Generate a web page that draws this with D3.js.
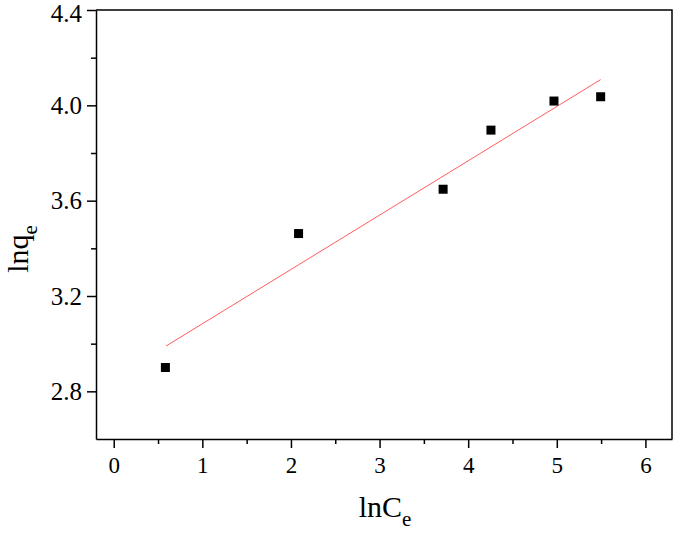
<!DOCTYPE html>
<html>
<head>
<meta charset="utf-8">
<script src="https://d3js.org/d3.v7.min.js"></script>
<style>
  body { margin: 0; background: #fff; }
  text { font-family: "Liberation Serif", "Times New Roman", serif; fill: #000; }
  .axis path, .axis line { stroke: #000; stroke-width: 1.5; }
</style>
</head>
<body>
<div id="chart"></div>
<script>
// dados
var lnCe = [0.583, 2.086, 3.717, 4.257, 4.968, 5.495];
var lnqe = [2.90, 3.462, 3.648, 3.896, 4.018, 4.036];
// reta ajustada (extremos)
var fitX = [0.59, 5.495];
var fitY = [2.99, 4.108];
var xTicks = [0, 1, 2, 3, 4, 5, 6];
var yTicks = [2.8, 3.2, 3.6, 4.0, 4.4];

var W = 675, H = 533;
var margin = {top: 10, right: 3, bottom: 94, left: 96};
var w = W - margin.left - margin.right,
    h = H - margin.top - margin.bottom;

var x = d3.scaleLinear().domain([-0.2, 6.3]).range([0, w]);
var y = d3.scaleLinear().domain([2.6, 4.4]).range([h, 0]);

var svg = d3.select('#chart').append('svg')
  .attr('width', W).attr('height', H);
var g = svg.append('g')
  .attr('transform', 'translate(' + margin.left + ',' + margin.top + ')');

// ticks menores
var xMinor = d3.range(0.5, 6.3, 1);
var yMinor = d3.range(3.0, 4.4, 0.4);

g.append('g').attr('class', 'axis')
  .attr('transform', 'translate(0,' + h + ')')
  .call(d3.axisBottom(x).tickValues(xMinor).tickSize(5).tickFormat(''))
  .select('.domain').remove();
g.append('g').attr('class', 'axis')
  .call(d3.axisLeft(y).tickValues(yMinor).tickSize(5).tickFormat(''))
  .select('.domain').remove();

var xa = g.append('g').attr('class', 'axis')
  .attr('transform', 'translate(0,' + h + ')')
  .call(d3.axisBottom(x).tickValues(xTicks).tickSize(9).tickSizeOuter(0).tickPadding(9).tickFormat(d3.format('d')));
xa.selectAll('text').style('font-size', '23px');

var ya = g.append('g').attr('class', 'axis')
  .call(d3.axisLeft(y).tickValues(yTicks).tickSize(9).tickSizeOuter(0).tickPadding(5).tickFormat(d3.format('.1f')));
ya.selectAll('text').style('font-size', '25px');
// 4.4 fica colado no topo
ya.selectAll('text').filter(d => d === 4.4).attr('dy', '0.45em');

// moldura de cima e da direita
g.append('path')
  .attr('d', 'M0,0H' + w + 'V' + h)
  .attr('fill', 'none').attr('stroke', '#000').attr('stroke-width', 1.5);

// reta
g.append('path')
  .datum(d3.zip(fitX, fitY))
  .attr('fill', 'none')
  .attr('stroke', '#ff5c5c')
  .attr('stroke-width', 1)
  .attr('d', d3.line().x(d => x(d[0])).y(d => y(d[1])));

// pontos
var s = 9;
g.selectAll('rect.pt')
  .data(d3.zip(lnCe, lnqe))
  .enter().append('rect')
    .attr('class', 'pt')
    .attr('x', d => x(d[0]) - s / 2)
    .attr('y', d => y(d[1]) - s / 2)
    .attr('width', s).attr('height', s)
    .attr('fill', '#000');

// titulos
var tx = svg.append('text')
  .attr('x', 385).attr('y', 517)
  .attr('text-anchor', 'middle')
  .style('font-size', '30px');
tx.append('tspan').text('lnC');
tx.append('tspan').attr('dy', 9).style('font-size', '21px').text('e');

var ty = svg.append('text')
  .attr('transform', 'translate(28,249) rotate(-90)')
  .attr('text-anchor', 'middle')
  .style('font-size', '30px');
ty.append('tspan').text('lnq');
ty.append('tspan').attr('dy', 9).style('font-size', '21px').text('e');
</script>
</body>
</html>
